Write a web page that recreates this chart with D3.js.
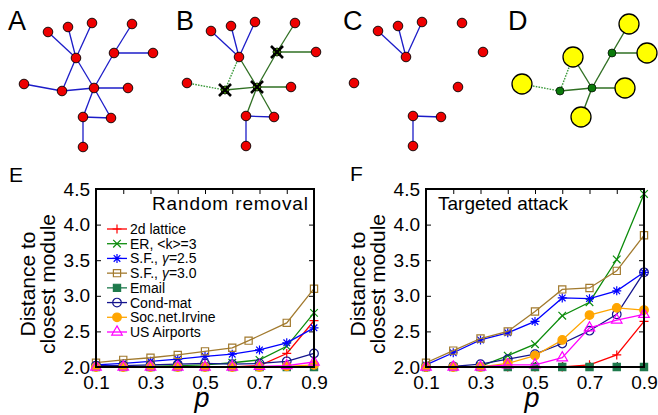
<!DOCTYPE html>
<html>
<head>
<meta charset="utf-8">
<script src="https://cdn.jsdelivr.net/npm/d3@7"></script>
<style>
body { margin: 0; background: #fff; }
svg { display: block; font-family: "Liberation Sans", Arial, sans-serif; }
</style>
</head>
<body>
<svg width="658" height="415"></svg>
<script>
// ---- network sketch (layout units, same layout for A-C) ----
var nodeX = [48, 68, 92, 132, 76, 114, 153, 24, 62, 94, 128, 83, 111, 83];
var nodeY = [32, 27, 23, 24, 58, 53, 53, 84, 91, 88, 88, 117, 118, 147];
var edges = [[0,4],[1,4],[2,4],[4,8],[4,9],[7,8],[8,9],[9,10],[9,5],[5,3],[5,6],[9,11],[9,12],[11,12],[11,13]];
var attacked = [5, 8, 9];
var dottedEdges = ["7-8", "4-8"];
// panel D: modules (yellow) and attacked nodes (green)
var moduleX = [75, 131, 149, 24, 127, 83];
var moduleY = [57, 24, 53, 84, 88, 117];
var dLinks = [["n5","m1"],["n5","m2"],["n5","n9"],["m0","n9"],["m0","n8"],["m3","n8"],["n8","n9"],["n9","m4"],["n9","m5"]];
var dDotted = ["m0-n8", "m3-n8"];

// ---- line charts ----
var p = [0.1, 0.2, 0.3, 0.4, 0.5, 0.6, 0.7, 0.8, 0.9];
var pSF30Random = [0.1, 0.2, 0.3, 0.4, 0.5, 0.6, 0.66, 0.8, 0.9];
var seriesNames = ["2d lattice", "ER, <k>=3", "S.F., \u03b3=2.5", "S.F., \u03b3=3.0", "Email", "Cond-mat", "Soc.net.Irvine", "US Airports"];

var randomLattice = [2.0, 2.0, 2.0, 2.0, 2.0, 2.0, 2.02, 2.19, 2.65];
var randomER      = [2.01, 2.01, 2.01, 2.02, 2.03, 2.06, 2.10, 2.29, 2.76];
var randomSF25    = [2.03, 2.05, 2.08, 2.11, 2.15, 2.18, 2.24, 2.34, 2.55];
var randomSF30    = [2.06, 2.10, 2.13, 2.17, 2.22, 2.27, 2.37, 2.62, 3.10];
var randomEmail   = [2.0, 2.0, 2.0, 2.0, 2.0, 2.0, 2.0, 2.0, 2.0];
var randomCond    = [2.02, 2.02, 2.03, 2.04, 2.05, 2.04, 2.05, 2.08, 2.19];
var randomIrvine  = [2.0, 2.0, 2.0, 2.0, 2.0, 2.0, 2.0, 2.01, 2.03];
var randomAir     = [2.0, 2.0, 2.0, 2.0, 2.0, 2.0, 2.01, 2.02, 2.07];

var attackLattice = [2.0, 2.0, 2.0, 2.0, 2.0, 2.0, 2.03, 2.17, 2.64];
var attackER      = [2.0, 2.0, 2.01, 2.16, 2.32, 2.72, 2.91, 3.51, 4.43];
var attackSF25    = [2.03, 2.20, 2.38, 2.48, 2.64, 2.97, 2.96, 3.07, 3.33];
var attackSF30    = [2.06, 2.23, 2.40, 2.50, 2.78, 3.09, 3.11, 3.35, 3.85];
var attackEmail   = [2.0, 2.0, 2.0, 2.0, 2.0, 2.0, 2.0, 2.0, 2.0];
var attackCond    = [2.0, 2.01, 2.04, 2.11, 2.18, 2.33, 2.51, 2.74, 3.33];
var attackIrvine  = [2.0, 2.0, 2.0, 2.05, 2.16, 2.38, 2.73, 2.83, 2.80];
var attackAir     = [2.0, 2.0, 2.0, 2.03, 2.03, 2.13, 2.55, 2.66, 2.74];

var yTicks = [2.0, 2.5, 3.0, 3.5, 4.0, 4.5];
var xTicks = [0.1, 0.2, 0.3, 0.4, 0.5, 0.6, 0.7, 0.8, 0.9];

var colors = ["#ff0000", "#0c8c0c", "#0000ff", "#a27a2e", "#1e7a4c", "#14148e", "#ffa500", "#ff00ff"];
var markers = ["plus", "x", "star", "square", "squareFill", "circle", "circleFill", "triangle"];

var svg = d3.select("svg");

// ---------- networks ----------
var edgeBlue = "#1c1cc8", edgeGreen = "#2f6f22", dotGreen = "#3c9a3c";

function netPanel(dx, dy, mode) {
  var g = svg.append("g");
  var sx = d3.scaleLinear().domain([0, 100]).range([dx, dx + 100]);
  var sy = d3.scaleLinear().domain([0, 100]).range([dy, dy + 100]);
  edges.forEach(function(e) {
    var hit = mode != "A" && (attacked.indexOf(e[0]) >= 0 || attacked.indexOf(e[1]) >= 0);
    if (mode == "C" && hit) return;
    var dotted = hit && dottedEdges.indexOf(e[0] + "-" + e[1]) >= 0;
    g.append("line")
      .attr("x1", sx(nodeX[e[0]])).attr("y1", sy(nodeY[e[0]]))
      .attr("x2", sx(nodeX[e[1]])).attr("y2", sy(nodeY[e[1]]))
      .attr("stroke", hit ? (dotted ? dotGreen : edgeGreen) : edgeBlue)
      .attr("stroke-width", dotted ? 1.4 : 1.3)
      .attr("stroke-dasharray", dotted ? "1.6,1.2" : null);
  });
  nodeX.forEach(function(x, i) {
    var hit = mode != "A" && attacked.indexOf(i) >= 0;
    if (mode == "C" && hit) return;
    g.append("circle")
      .attr("cx", sx(x)).attr("cy", sy(nodeY[i]))
      .attr("r", hit ? 4 : 4.8)
      .attr("fill", hit ? "#66cc11" : "#ee0000")
      .attr("stroke", "#000").attr("stroke-width", 0.9);
    if (hit) {
      g.append("path")
        .attr("transform", "translate(" + sx(x) + "," + sy(nodeY[i]) + ")")
        .attr("d", "M-6,-6L6,6M-6,6L6,-6")
        .attr("stroke", "#000").attr("stroke-width", 2.6);
    }
  });
}

netPanel(0, 0, "A");
netPanel(163, -1, "B");
netPanel(330, -1, "C");

(function() {
  var g = svg.append("g");
  var sx = d3.scaleLinear().domain([0, 100]).range([498, 598]);
  var sy = d3.scaleLinear().domain([0, 100]).range([0, 100]);
  function pos(id) {
    var i = +id.slice(1);
    return id[0] == "m" ? [sx(moduleX[i]), sy(moduleY[i])] : [sx(nodeX[i]), sy(nodeY[i])];
  }
  dLinks.forEach(function(l) {
    var a = pos(l[0]), b = pos(l[1]);
    var dotted = dDotted.indexOf(l[0] + "-" + l[1]) >= 0;
    g.append("line")
      .attr("x1", a[0]).attr("y1", a[1]).attr("x2", b[0]).attr("y2", b[1])
      .attr("stroke", dotted ? dotGreen : edgeGreen)
      .attr("stroke-width", 1.4)
      .attr("stroke-dasharray", dotted ? "1.6,1.2" : null);
  });
  moduleX.forEach(function(x, i) {
    g.append("circle").attr("cx", sx(x)).attr("cy", sy(moduleY[i])).attr("r", 10)
      .attr("fill", "#ffff00").attr("stroke", "#000").attr("stroke-width", 1.3);
  });
  attacked.forEach(function(i) {
    g.append("circle").attr("cx", sx(nodeX[i])).attr("cy", sy(nodeY[i])).attr("r", 4)
      .attr("fill", "#0a7a0a").attr("stroke", "#000").attr("stroke-width", 0.7);
  });
})();

// panel letters
[["A", 8, 30], ["B", 176, 30], ["C", 343, 30], ["D", 508, 30]].forEach(function(d) {
  svg.append("text").attr("x", d[1]).attr("y", d[2]).attr("font-size", 27).text(d[0]);
});
[["E", 9, 182], ["F", 350, 181]].forEach(function(d) {
  svg.append("text").attr("x", d[1]).attr("y", d[2]).attr("font-size", 21).text(d[0]);
});

// ---------- line charts ----------
function markerPath(type) {
  if (type == "plus") return "M-4.5,0H4.5M0,-4.5V4.5";
  if (type == "x") return "M-3.8,-3.8L3.8,3.8M-3.8,3.8L3.8,-3.8";
  if (type == "star") return "M-4.5,0H4.5M0,-4.5V4.5M-3.3,-3.3L3.3,3.3M-3.3,3.3L3.3,-3.3";
  if (type == "square" || type == "squareFill") return d3.symbol(d3.symbolSquare, 52)();
  if (type == "circle" || type == "circleFill") return d3.symbol(d3.symbolCircle, 58)();
  if (type == "triangle") return d3.symbol(d3.symbolTriangle, 48)();
}
function drawMarker(g, type, color, x, y) {
  var filled = type == "squareFill" || type == "circleFill";
  g.append("path")
    .attr("transform", "translate(" + x + "," + y + ")")
    .attr("d", markerPath(type))
    .attr("fill", filled ? color : "none")
    .attr("stroke", color)
    .attr("stroke-width", 1.2);
}

function lineChart(left, seriesY, seriesP, title, titleLeft) {
  var right = left + 218, top = 189, bottom = 367;
  var x = d3.scaleLinear().domain([0.1, 0.9]).range([left, right]);
  var y = d3.scaleLinear().domain([2.0, 4.5]).range([bottom, top]);
  var g = svg.append("g");

  // ticks
  g.append("g").attr("transform", "translate(" + left + ",0)")
    .call(d3.axisLeft(y).tickValues(yTicks).tickSizeInner(-5).tickSizeOuter(0).tickPadding(6).tickFormat(d3.format(".1f")));
  g.append("g").attr("transform", "translate(" + right + ",0)")
    .call(d3.axisRight(y).tickValues(yTicks).tickSizeInner(-5).tickSizeOuter(0).tickFormat(""));
  g.append("g").attr("transform", "translate(0," + bottom + ")")
    .call(d3.axisBottom(x).tickValues(xTicks).tickSizeInner(-5).tickSizeOuter(0).tickPadding(9)
      .tickFormat(function(d) { return [0.1, 0.3, 0.5, 0.7, 0.9].some(function(v) { return Math.abs(v - d) < 1e-6; }) ? d3.format(".1f")(d) : ""; }));
  g.append("g").attr("transform", "translate(0," + top + ")")
    .call(d3.axisTop(x).tickValues(xTicks).tickSizeInner(-5).tickSizeOuter(0).tickFormat(""));
  g.selectAll(".domain").remove();
  g.selectAll(".tick line").attr("stroke", "#000").attr("stroke-width", 1);
  g.selectAll(".tick text").attr("font-size", 19).attr("fill", "#000")
    .attr("font-family", "'Liberation Sans', Arial, sans-serif");

  // series
  var line = d3.line().x(function(d) { return x(d[0]); }).y(function(d) { return y(d[1]); });
  seriesY.forEach(function(vals, k) {
    var pts = vals.map(function(v, i) { return [seriesP[k][i], v]; });
    g.append("path").attr("d", line(pts)).attr("fill", "none")
      .attr("stroke", colors[k]).attr("stroke-width", 1.3);
    pts.forEach(function(pt) { drawMarker(g, markers[k], colors[k], x(pt[0]), y(pt[1])); });
  });

  // frame
  g.append("rect").attr("x", left).attr("y", top).attr("width", right - left).attr("height", bottom - top)
    .attr("fill", "none").attr("stroke", "#000").attr("stroke-width", 2);

  // title
  var t = g.append("text").attr("y", 210).attr("font-size", 19).text(title);
  if (titleLeft) t.attr("x", left + 12);
  else t.attr("x", left + 56).attr("textLength", 156).attr("lengthAdjust", "spacing");

  // axis labels
  var cy = (top + bottom) / 2 + 6;
  g.append("text").attr("transform", "translate(" + (left - 61) + "," + cy + ") rotate(-90)")
    .attr("text-anchor", "middle").attr("font-size", 21).text("Distance to");
  g.append("text").attr("transform", "translate(" + (left - 41) + "," + cy + ") rotate(-90)")
    .attr("text-anchor", "middle").attr("font-size", 21).text("closest module");
  g.append("text").attr("x", (left + right) / 2 - 3).attr("y", 407).attr("text-anchor", "middle")
    .attr("font-size", 27).attr("font-style", "italic").text("p");
  return g;
}

var gE = lineChart(96,
  [randomLattice, randomER, randomSF25, randomSF30, randomEmail, randomCond, randomIrvine, randomAir],
  [p, p, p, pSF30Random, p, p, p, p], "Random removal", false);
lineChart(426,
  [attackLattice, attackER, attackSF25, attackSF30, attackEmail, attackCond, attackIrvine, attackAir],
  [p, p, p, p, p, p, p, p], "Targeted attack", true);

// legend (panel E)
var legendY = d3.scalePoint().domain(seriesNames).range([229, 332]);
seriesNames.forEach(function(name, k) {
  var yy = legendY(name);
  gE.append("line").attr("x1", 107).attr("x2", 127).attr("y1", yy).attr("y2", yy)
    .attr("stroke", colors[k]).attr("stroke-width", 1.3);
  drawMarker(gE, markers[k], colors[k], 117, yy);
  var t = gE.append("text").attr("x", 130).attr("y", yy).attr("dy", "0.36em").attr("font-size", 14);
  var parts = name.split("\u03b3");
  t.append("tspan").text(parts[0]);
  if (parts.length > 1) {
    t.append("tspan").attr("font-style", "italic").text("\u03b3");
    t.append("tspan").text(parts[1]);
  }
});
</script>
</body>
</html>
